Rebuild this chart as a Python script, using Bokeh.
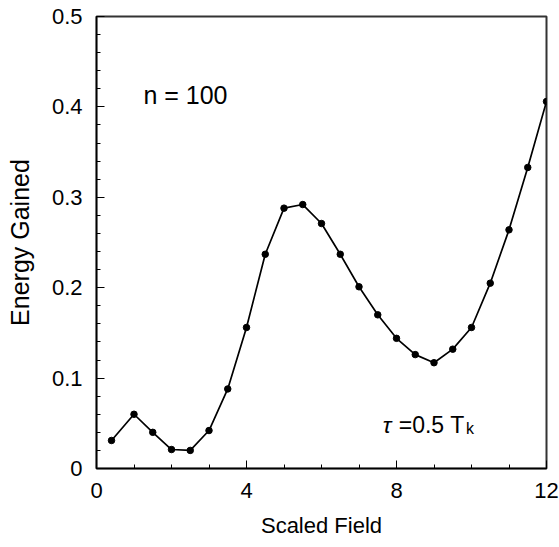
from bokeh.plotting import figure
from bokeh.models import Range1d, FixedTicker, ColumnDataSource
from bokeh.core.properties import value
from bokeh.embed import file_html
from bokeh.resources import INLINE

# Data
field = [0.4, 1.0, 1.5, 2.0, 2.5, 3.0, 3.5, 4.0, 4.5, 5.0, 5.5, 6.0, 6.5, 7.0,
         7.5, 8.0, 8.5, 9.0, 9.5, 10.0, 10.5, 11.0, 11.5, 12.0]
energy = [0.031, 0.060, 0.040, 0.021, 0.020, 0.042, 0.088, 0.156, 0.237, 0.288,
          0.292, 0.271, 0.237, 0.201, 0.170, 0.144, 0.126, 0.117, 0.132, 0.156,
          0.205, 0.264, 0.333, 0.406]

x_major = [0, 4, 8, 12]
y_major = [0, 0.1, 0.2, 0.3, 0.4, 0.5]
y_labels = {0: "0", 0.1: "0.1", 0.2: "0.2", 0.3: "0.3", 0.4: "0.4", 0.5: "0.5"}

FONT = "Liberation Sans"

p = figure(width=559, height=547, output_backend="svg", toolbar_location=None,
           x_range=Range1d(0, 12), y_range=Range1d(0, 0.5),
           min_border_left=96, min_border_right=13, min_border_top=16, min_border_bottom=79)
p.grid.visible = False
p.background_fill_color = "white"
p.border_fill_color = "white"
p.outline_line_color = "#333333"
p.outline_line_width = 2

src = ColumnDataSource(dict(x=field, y=energy))
p.line("x", "y", source=src, line_color="black", line_width=1.7)
p.scatter("x", "y", source=src, size=6.5, color="black")

for ax in (p.xaxis[0], p.yaxis[0]):
    ax.axis_line_color = "black"
    ax.axis_line_width = 1.5
    ax.major_tick_line_color = "black"
    ax.minor_tick_line_color = "black"
    ax.major_tick_in = 8
    ax.major_tick_out = 0
    ax.minor_tick_in = 4
    ax.minor_tick_out = 0
    ax.major_label_text_font = FONT
    ax.major_label_text_font_size = "22px"
    ax.major_label_text_color = "black"
    ax.axis_label_text_font = FONT
    ax.axis_label_text_font_style = "normal"
    ax.axis_label_text_color = "black"

p.xaxis.axis_label_text_font_size = "22px"
p.yaxis.axis_label_text_font_size = "25px"
p.xaxis.ticker = FixedTicker(ticks=x_major, minor_ticks=list(range(0, 13)))
p.yaxis.ticker = FixedTicker(ticks=y_major,
                             minor_ticks=[round(i * 0.02, 2) for i in range(26)])
p.yaxis.major_label_overrides = y_labels
p.xaxis.axis_label = "Scaled Field"
p.yaxis.axis_label = "Energy Gained"
p.xaxis.major_label_standoff = 14
p.yaxis.major_label_standoff = 14
p.xaxis.axis_label_standoff = 12
p.yaxis.axis_label_standoff = 15

# annotations
p.text(x=[1.25], y=[0.413], text=["n = 100"], text_font=value(FONT),
       text_font_size="25px", text_color="black", text_baseline="alphabetic")
p.text(x=[7.63], y=[0.0484], text=["τ"], text_font=value(FONT),
       text_font_size="23px", text_font_style="italic", text_color="black",
       text_baseline="alphabetic")
p.text(x=[8.06], y=[0.0484], text=["=0.5 T"], text_font=value(FONT),
       text_font_size="23px", text_color="black", text_baseline="alphabetic")
p.text(x=[9.85], y=[0.044], text=["k"], text_font=value(FONT),
       text_font_size="16px", text_color="black", text_baseline="alphabetic")

open("out.html", "w").write(file_html(p, INLINE))
